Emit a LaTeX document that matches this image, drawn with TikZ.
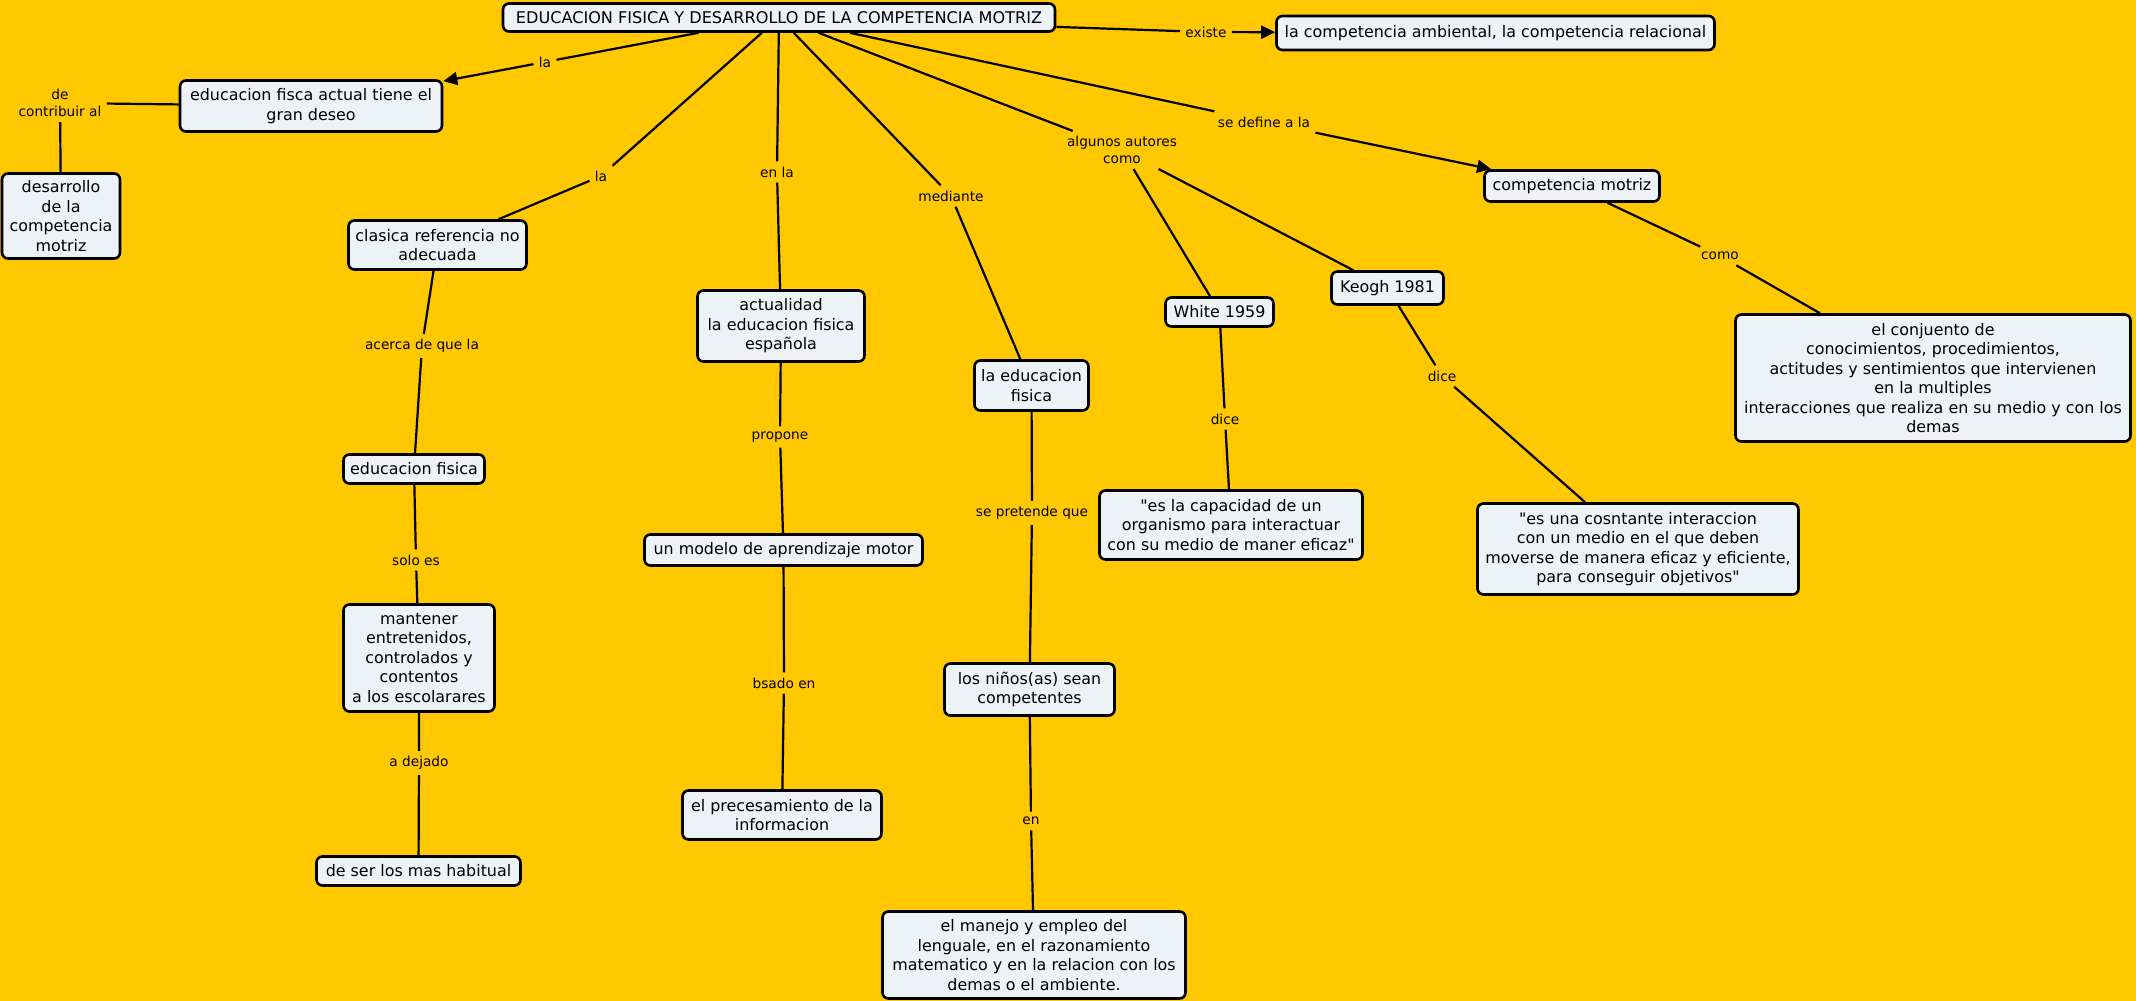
\documentclass[tikz,border=0pt]{standalone}
\usepackage{fontspec}
\setmainfont{DejaVu Sans}
\usetikzlibrary{arrows.meta}
\definecolor{bgyellow}{RGB}{255,200,0}
\definecolor{boxfill}{RGB}{236,242,246}
\newcommand{\boxfont}{\fontsize{7.95}{9.75}\selectfont}
\newcommand{\titlefont}{\fontsize{8.05}{9.75}\selectfont}
\newcommand{\linkfont}{\fontsize{6.85}{8.35}\selectfont}

\begin{document}
\begin{tikzpicture}[x=0.5pt,y=-0.5pt,
    concept/.style={draw, line width=1.3pt, rounded corners=3pt, fill=boxfill,
      align=center, font=\boxfont, inner sep=1pt},
    linkph/.style={align=center, font=\linkfont, inner sep=2.5pt},
    conn/.style={line width=1.1pt},
    arr/.style={line width=1.1pt, -{Triangle[length=7pt,width=6.5pt]}}]
    \useasboundingbox (0,0) rectangle (2136,1001);
    \fill[bgyellow] (0,0) rectangle (2136,1001);

    \node[concept, font=\titlefont, minimum width=276pt, minimum height=14pt] (title) at (779,17.5)
      {EDUCACION FISICA Y DESARROLLO DE LA COMPETENCIA MOTRIZ};
    \node[concept, minimum width=219pt, minimum height=17pt] (compamb) at (1495.5,33)
      {la competencia ambiental, la competencia relacional};
    \node[concept, minimum width=131pt, minimum height=25.5pt] (deseo) at (311,106)
      {educacion fisca actual tiene el\\gran deseo};
    \node[concept, minimum width=59pt, minimum height=42.5pt] (desarrollo) at (61,216)
      {desarrollo\\de la\\competencia\\motriz};
    \node[concept, minimum width=89pt, minimum height=24.5pt] (clasica) at (437.5,245)
      {clasica referencia no\\adecuada};
    \node[concept, minimum width=83.5pt, minimum height=35.5pt] (actualidad) at (781,326)
      {actualidad\\la educacion fisica\\española};
    \node[concept, minimum width=70.5pt, minimum height=14.5pt] (edfis) at (414,469)
      {educacion fisica};
    \node[concept, minimum width=139pt, minimum height=15.5pt] (modelo) at (783.5,550)
      {un modelo de aprendizaje motor};
    \node[concept, minimum width=75.5pt, minimum height=53.5pt] (mantener) at (419,658)
      {mantener\\entretenidos,\\controlados y\\contentos\\a los escolarares};
    \node[concept, minimum width=102pt, minimum height=14.5pt] (habitual) at (418.5,871)
      {de ser los mas habitual};
    \node[concept, minimum width=99.5pt, minimum height=24.5pt] (procesam) at (782,815)
      {el precesamiento de la\\informacion};
    \node[concept, minimum width=85pt, minimum height=26pt] (ninos) at (1029.5,689.5)
      {los niños(as) sean\\competentes};
    \node[concept, minimum width=151.5pt, minimum height=43.5pt] (manejo) at (1034,955)
      {el manejo y empleo del\\lenguale, en el razonamiento\\matematico y en la relacion con los\\demas o el ambiente.};
    \node[concept, minimum width=57pt, minimum height=25pt] (edfisdos) at (1031.5,385.5)
      {la educacion\\fisica};
    \node[concept, minimum width=54pt, minimum height=14.5pt] (white) at (1219.5,312)
      {White 1959};
    \node[concept, minimum width=56pt, minimum height=16.5pt] (keogh) at (1387.5,288)
      {Keogh 1981};
    \node[concept, minimum width=131.5pt, minimum height=34.5pt] (capacidad) at (1231,525)
      {\textquotedbl es la capacidad de un\\organismo para interactuar\\con su medio de maner eficaz\textquotedbl};
    \node[concept, minimum width=160.5pt, minimum height=45.5pt] (interaccion) at (1638,549)
      {\textquotedbl es una cosntante interaccion\\con un medio en el que deben\\moverse de manera eficaz y eficiente,\\para conseguir objetivos\textquotedbl};
    \node[concept, minimum width=87.5pt, minimum height=15.5pt] (compmot) at (1572,186)
      {competencia motriz};
    \node[concept, minimum width=197.5pt, minimum height=63.5pt] (conjunto) at (1933,378)
      {el conjuento de\\conocimientos, procedimientos,\\actitudes y sentimientos que intervienen\\en la multiples\\interacciones que realiza en su medio y con los\\demas};

    \node[linkph] (laa) at (545,62) {la};
    \node[linkph] (contrib) at (60,103) {de\\contribuir al};
    \node[linkph] (lab) at (601,176) {la};
    \node[linkph] (enla) at (777,172) {en la};
    \node[linkph] (mediante) at (951,196) {mediante};
    \node[linkph] (autores) at (1122,150) {algunos autores\\como};
    \node[linkph] (define) at (1264,122) {se define a la};
    \node[linkph] (existe) at (1206,32) {existe};
    \node[linkph] (como) at (1720,256) {como};
    \node[linkph] (acerca) at (422,346) {acerca de que la};
    \node[linkph] (propone) at (780,437) {propone};
    \node[linkph] (soloes) at (416,560) {solo es};
    \node[linkph] (adejado) at (419,763) {a dejado};
    \node[linkph] (bsado) at (784,683) {bsado en};
    \node[linkph] (en) at (1031,821) {en};
    \node[linkph] (pretende) at (1032,513) {se pretende que};
    \node[linkph] (dicea) at (1225,419) {dice};
    \node[linkph] (diceb) at (1442,376) {dice};

    \draw[conn] (title) -- (laa);
    \draw[arr] (laa) -- (deseo);
    \draw[conn] (deseo) -- (contrib);
    \draw[conn] (contrib) -- (desarrollo);
    \draw[conn] (title) -- (lab) -- (clasica);
    \draw[conn] (clasica) -- (acerca) -- (edfis);
    \draw[conn] (edfis) -- (soloes) -- (mantener);
    \draw[conn] (mantener) -- (adejado) -- (habitual);
    \draw[conn] (title) -- (enla) -- (actualidad);
    \draw[conn] (actualidad) -- (propone) -- (modelo);
    \draw[conn] (modelo) -- (bsado) -- (procesam);
    \draw[conn] (title) -- (mediante) -- (edfisdos);
    \draw[conn] (edfisdos) -- (pretende) -- (ninos);
    \draw[conn] (ninos) -- (en) -- (manejo);
    \draw[conn] (title) -- (autores);
    \draw[conn] (autores) -- (white);
    \draw[conn] (autores) -- (keogh);
    \draw[conn] (white) -- (dicea) -- (capacidad);
    \draw[conn] (keogh) -- (diceb) -- (interaccion);
    \draw[conn] (title) -- (define);
    \draw[arr] (define) -- (compmot);
    \draw[conn] (compmot) -- (como) -- (conjunto);
    \draw[conn] (title) -- (existe);
    \draw[arr] (existe) -- (compamb);
  \end{tikzpicture}
\end{document}
